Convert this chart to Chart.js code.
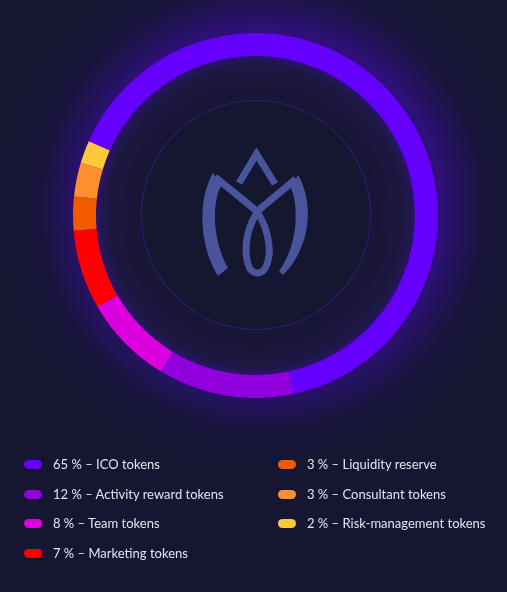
<!DOCTYPE html>
<html>
<head>
<meta charset="utf-8">
<script src="https://cdn.jsdelivr.net/npm/chart.js@4.4.1/dist/chart.umd.min.js"></script>
<style>
  html, body { margin: 0; padding: 0; }
  body {
    width: 507px; height: 592px; overflow: hidden; position: relative;
    background: #161633;
    font-family: "Lato", "Inter", sans-serif;
  }
  #glow {
    position: absolute; left: 0; top: 0; width: 507px; height: 592px;
    background:
      radial-gradient(circle at 262px 208px, rgba(70,10,190,0.5) 0px, rgba(70,10,190,0.5) 180px, rgba(62,12,175,0.32) 198px, rgba(45,14,130,0.14) 222px, rgba(22,22,51,0) 255px);
  }
  #innerband {
    position: absolute; left: 95px; top: 55px; width: 322px; height: 322px; border-radius: 50%;
    background: radial-gradient(circle, #161632 0px, #181636 120px, #1d1742 150px, #2a1470 161px);
  }
  #innercircle {
    position: absolute; left: 141px; top: 100px; width: 230px; height: 230px; border-radius: 50%;
    box-sizing: border-box; border: 1px solid rgba(72,30,170,0.6);
    background: #15162f;
  }
  #logo { position: absolute; left: 0; top: 0; }
  #chartwrap { position: absolute; left: 73px; top: 33px; width: 365px; height: 365px; }
  #legend { position: absolute; left: 0; top: 0; width: 507px; height: 592px; }
  .item { position: absolute; display: flex; align-items: center; height: 20px; color: #e4e4ee; font-size: 13px; white-space: nowrap; }
  .pill { width: 18px; height: 9px; border-radius: 5px; margin-right: 11px; }
</style>
</head>
<body>
<div id="glow"></div>
<div id="innerband"></div>
<div id="innercircle"></div>
<svg id="logo" width="507" height="592" viewBox="0 0 507 592">
  <g fill="#4a549d" stroke="none">
    <path d="M 213 173 C 199 196, 197 242, 218 276 L 228 268 C 212 240, 212 203, 221 186 Z"/>
    <path d="M 298 175 C 313 200, 313 245, 283 275 L 279 271 C 298 245, 299 207, 291 188 Z"/>
  </g>
  <g fill="none" stroke="#4a549d" stroke-width="7" stroke-linejoin="miter" stroke-linecap="butt">
    <path d="M 239 183 L 256.5 154 L 275 184"/>
    <path d="M 215 177 L 253 208 C 266 220, 273 248, 267 264 C 263 276, 251 276, 248 264 C 243 246, 248 222, 261 208 L 296 179"/>
  </g>
</svg>
<div id="chartwrap"><canvas id="c" width="365" height="365"></canvas></div>
<div id="legend"></div>
<script>
const categories = ["ICO tokens", "Activity reward tokens", "Team tokens", "Marketing tokens", "Liquidity reserve", "Consultant tokens", "Risk-management tokens"];
const shares = [65, 12, 8, 7, 3, 3, 2];
const colors = ["#6500ff", "#9000dd", "#dc00df", "#ff0000", "#f25a00", "#fd8f2f", "#fdc93b"];

// legend from data
const legend = document.getElementById("legend");
const legendCols = [[0, 1, 2, 3], [4, 5, 6]];
const colX = [24, 278];
const rowY = [454, 484, 513, 543];
legendCols.forEach((col, ci) => {
  col.forEach((idx, ri) => {
    const it = document.createElement("div");
    it.className = "item";
    it.style.left = colX[ci] + "px";
    it.style.top = rowY[ri] + "px";
    const p = document.createElement("span");
    p.className = "pill";
    p.style.background = colors[idx];
    const t = document.createElement("span");
    t.textContent = shares[idx] + " % \u2013 " + categories[idx];
    it.appendChild(p); it.appendChild(t);
    legend.appendChild(it);
  });
});

new Chart(document.getElementById("c"), {
  type: "doughnut",
  data: {
    labels: categories,
    datasets: [{
      data: shares,
      backgroundColor: colors,
      borderWidth: 0,
      hoverOffset: 0,
      offset: 0
    }]
  },
  options: {
    responsive: false,
    animation: false,
    cutout: "87.4%",
    rotation: -66,
    layout: { padding: 0 },
    plugins: { legend: { display: false }, tooltip: { enabled: false } },
    events: []
  }
});
</script>
</body>
</html>
